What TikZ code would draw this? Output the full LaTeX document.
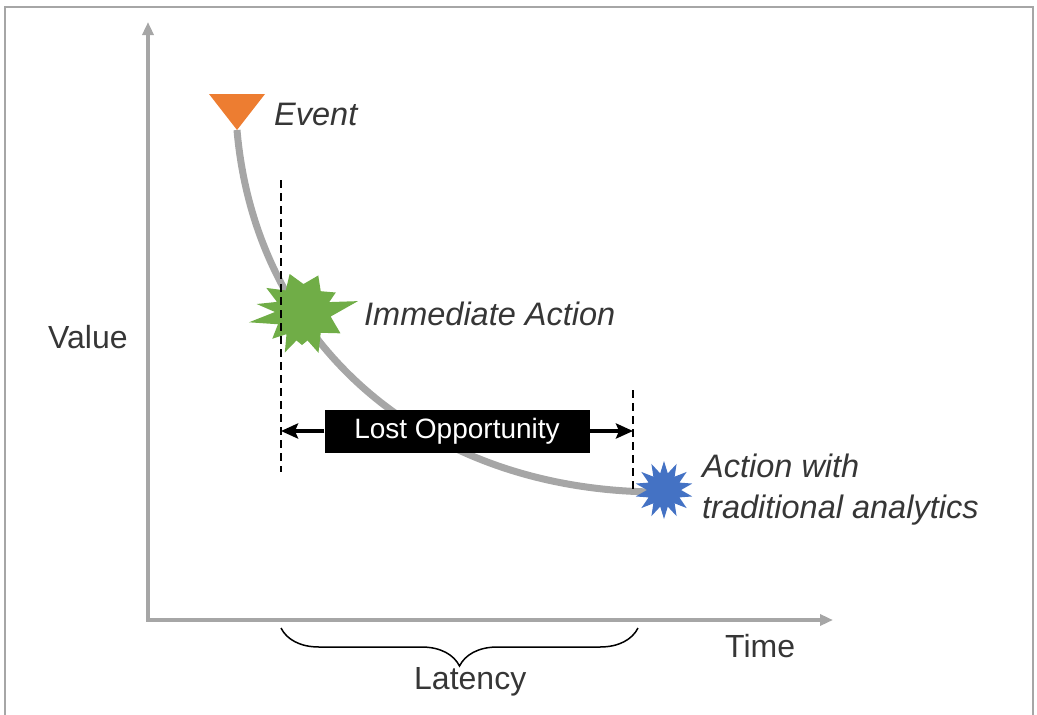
\documentclass[tikz,border=0pt]{standalone}
\usepackage{fontspec}
\setmainfont{Liberation Sans}
\usetikzlibrary{arrows.meta,decorations.pathreplacing,shapes.geometric}
\definecolor{axisgray}{HTML}{A6A6A6}
\definecolor{evorange}{HTML}{ED7D31}
\definecolor{actgreen}{HTML}{70AD47}
\definecolor{actblue}{HTML}{4472C4}
\definecolor{txtgray}{HTML}{363636}
\tikzset{
  axis/.style={draw=axisgray, line width=4pt, line cap=rect, -{Triangle[length=13pt,width=11pt]}},
  guide/.style={draw=black, line width=1.8pt, dash pattern=on 8pt off 5pt},
  lbl/.style={text=txtgray, inner sep=0pt, anchor=base west, font={\fontsize{32pt}{38pt}\selectfont}},
  ilbl/.style={lbl, font={\fontsize{32.5pt}{41pt}\selectfont\itshape}},
  gap/.style={draw=black, line width=3.5pt, -{Stealth[length=17pt,width=15pt,inset=3pt]}},
}

\begin{document}
\begin{tikzpicture}[x=1pt,y=-1pt]
      \useasboundingbox (0,0) rectangle (1037,715);
      %frame
      \draw[axisgray, line width=1.2pt] (5,720) -- (5,7) -- (1033,7) -- (1033,720);
      %axes
      \coordinate (origin) at (148,620);
      \coordinate (ytip) at (148,22);
      \coordinate (xtip) at (833,620);
      \draw[axis] (origin) -- (ytip);
      \draw[axis] (origin) -- (xtip);
      \node[lbl] (value) at (48,348) {Value};
      \node[lbl] (time) at (725,657) {Time};
      %value curve
      \coordinate (ev) at (237,130);
      \coordinate (gstar) at (302,312);
      \coordinate (cend) at (655,492);
      \draw[axisgray, line width=7pt] (ev) .. controls (255,340) and (420,490) .. (cend);
      %event
      \fill[evorange] (209,94) -- (265,94) -- (ev) -- cycle;
      \node[ilbl] (evlbl) at (274,125) {Event};
      %immediate action
      \fill[actgreen, shift={(gstar)}] (-170:46) -- (-158:27) -- (-146:43) -- (-127:27)
        -- (-108:40) -- (-87:28) -- (-66:40) -- (-48:28) -- (-30:39) -- (-20:29)
        -- (-11:57) -- (9:29) -- (29:44) -- (48:28) -- (68:44) -- (79:29) -- (90:33)
        -- (101:29) -- (113:44) -- (125:27) -- (138:40) -- (153:27) -- (169:54)
        -- (180:27) -- cycle;
      \node[ilbl] (immlbl) at (364,325) {Immediate Action};
      %traditional analytics
      \node[star, star points=14, star point ratio=1.7, minimum size=58pt, inner sep=0pt,
        fill=actblue] (bstar) at (664,490) {};
      \node[ilbl, anchor=west, align=left] (tradlbl) at (702,490) {Action with\\traditional analytics};
      %latency guides
      \coordinate (dl1) at (281,180);
      \coordinate (dl2) at (281,472);
      \coordinate (dr1) at (633,390);
      \coordinate (dr2) at (633,490);
      \draw[guide] (dl1) -- (dl2);
      \draw[guide] (dr1) -- (dr2);
      %lost opportunity
      \coordinate (la) at (281,431);
      \coordinate (ra) at (633,431);
      \node[fill=black, text=white, minimum width=265pt, minimum height=43pt, inner sep=0pt,
        font={\fontsize{28pt}{32pt}\selectfont}] (lost) at (457,431) {Lost Opportunity};
      \draw[gap] (lost.west) -- (la);
      \draw[gap] (lost.east) -- (ra);
      %latency brace
      \coordinate (b1) at (281,628);
      \coordinate (b2) at (638,628);
      \draw[line width=1.5pt, decorate, decoration={brace, amplitude=38pt, mirror}] (b1) -- (b2);
      \node[lbl] (latency) at (414,689) {Latency};
\end{tikzpicture}
\end{document}
